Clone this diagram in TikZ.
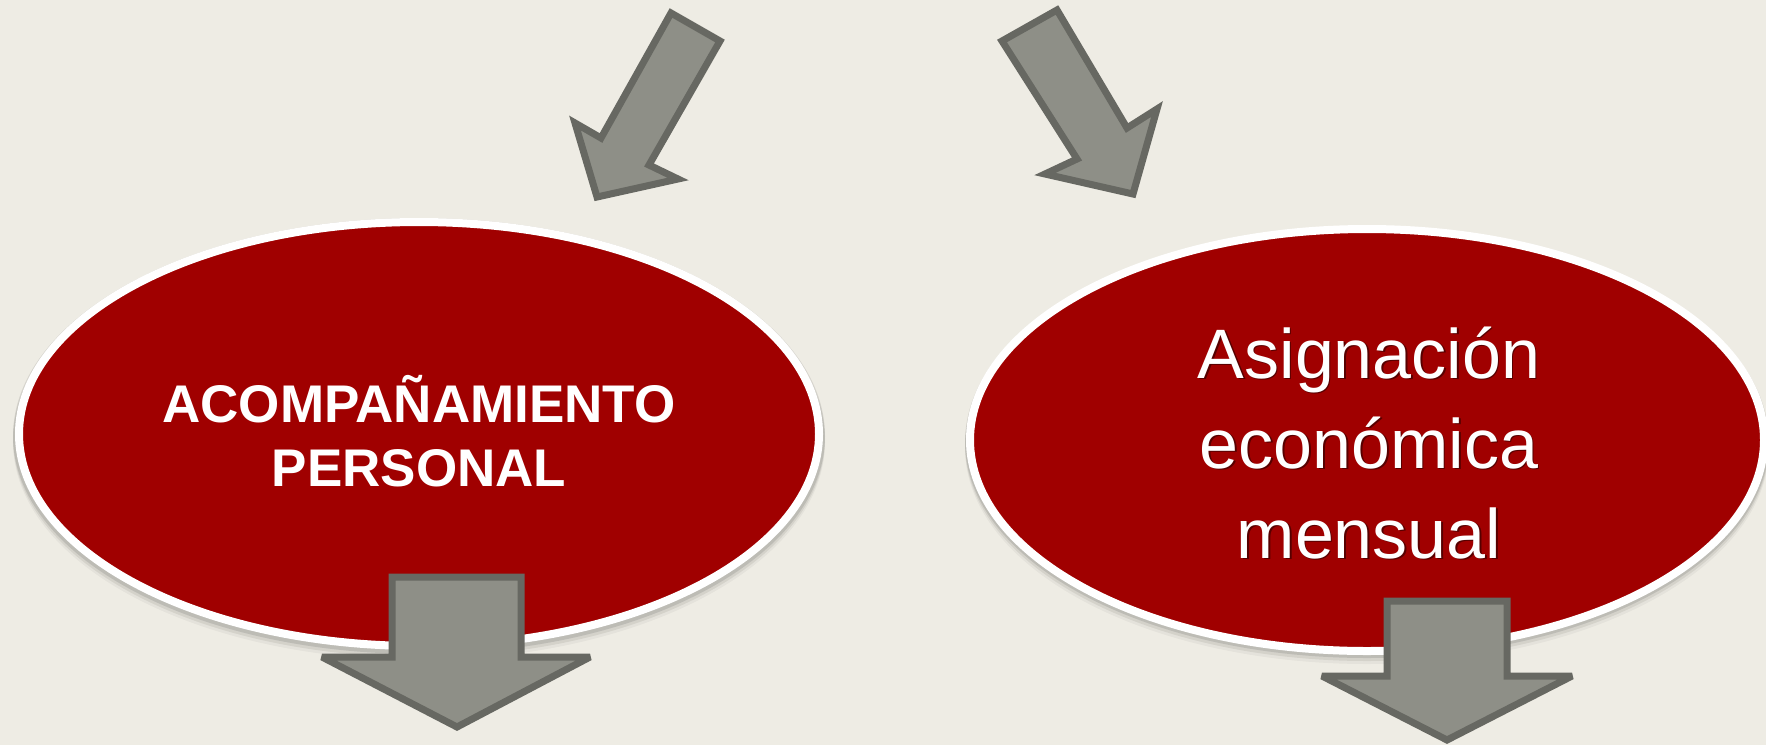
\documentclass[tikz,border=0pt]{standalone}
\usepackage{fontspec}
\setmainfont{Liberation Sans}
\usetikzlibrary{shapes.geometric}
\definecolor{bg}{HTML}{EEECE4}
\definecolor{bubred}{HTML}{A00000}
\definecolor{arrfill}{HTML}{8E8F87}
\definecolor{arrline}{HTML}{676862}
\begin{document}
\begin{tikzpicture}[x=0.5pt,y=-0.5pt,
  bubble/.style={ellipse, draw=white, line width=4pt, fill=bubred, inner sep=0pt},
  blockarrow/.style={draw=arrline, fill=arrfill, line width=3.5pt, miter limit=4},
  lbl/.style={text=white, anchor=base, inner sep=0pt},
  lblshadow/.style={text=black, opacity=0.45, anchor=base, inner sep=0pt}]
\fill[bg] (0,0) rectangle (1766,745);
\useasboundingbox (0,0) rectangle (1766,745);
% soft shadows
\foreach \o/\a in {2/0.10,5/0.07,8/0.04}{
  \fill[black, opacity=\a] (419,434+\o) ellipse [x radius=203pt, y radius=109pt];
  \fill[black, opacity=\a] (1367,440+\o) ellipse [x radius=201pt, y radius=108pt];
}
\node[bubble, minimum width=400pt, minimum height=212pt] (e1) at (419,434) {};
\node[bubble, minimum width=397pt, minimum height=211pt] (e2) at (1367,440) {};
% left text
\node[lbl, font=\bfseries\fontsize{26.5pt}{32pt}\selectfont] (t1a) at (419,422) {ACOMPAÑAMIENTO};
\node[lbl, font=\bfseries\fontsize{26.5pt}{32pt}\selectfont] (t1b) at (419,486) {PERSONAL};
% right text
\foreach \n/\t/\yy in {s2a/Asignación/378, s2b/económica/468, s2c/mensual/558}{
  \node[lblshadow, font=\fontsize{35pt}{45pt}\selectfont] (\n) at (1370.5,\yy+1.5) {\t};
}
\node[lbl, font=\fontsize{35pt}{45pt}\selectfont] (t2a) at (1369,378) {Asignación};
\node[lbl, font=\fontsize{35pt}{45pt}\selectfont] (t2b) at (1369,468) {económica};
\node[lbl, font=\fontsize{35pt}{45pt}\selectfont] (t2c) at (1369,558) {mensual};
% top arrows
\draw[blockarrow] (671,13) -- (720,41) -- (649,165) -- (678,179) -- (597,197) -- (575,123) -- (601,138) -- cycle;
\draw[blockarrow] (1002,41) -- (1057,10) -- (1127,128) -- (1157,109) -- (1133,194) -- (1045,174) -- (1077,159) -- cycle;
% bottom arrows
\draw[blockarrow] (392,577) -- (521,577) -- (521,657) -- (590,657) -- (457,727) -- (322,657) -- (392,657) -- cycle;
\draw[blockarrow] (1387,601) -- (1507,601) -- (1507,676) -- (1572,676) -- (1447,740) -- (1322,676) -- (1387,676) -- cycle;
\end{tikzpicture}
\end{document}
